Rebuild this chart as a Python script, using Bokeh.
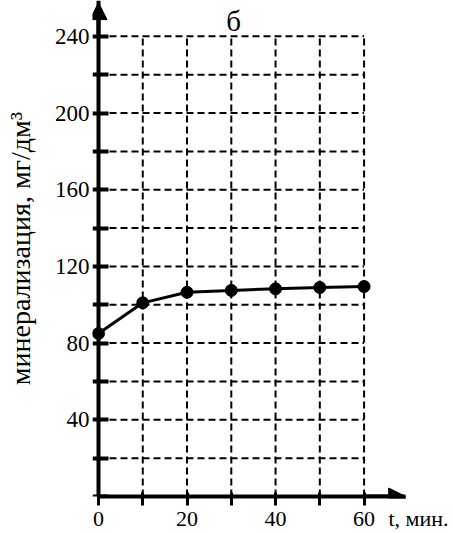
from bokeh.plotting import figure
from bokeh.models import Range1d, FixedTicker, Arrow, NormalHead, Label, LinearAxis
from bokeh.embed import file_html
from bokeh.resources import INLINE

# ---- data ----
t_min = [0, 10, 20, 30, 40, 50, 60]
mineralization = [85, 101, 106.5, 107.5, 108.3, 109, 109.5]

x_ticks = [0, 10, 20, 30, 40, 50, 60]
x_label_ticks = [0, 20, 40, 60]
x_tick_labels = ["0", "20", "40", "60"]
y_ticks = [0, 20, 40, 60, 80, 100, 120, 140, 160, 180, 200, 220, 240]
y_tick_labels = ["", "", "40", "", "80", "", "120", "", "160", "", "200", "", "240"]

title_text = "б"
x_label = "t, мин."
y_label = "минерализация, мг/дм³"

FONT = "Liberation Serif"
X_START, X_END = -1.356, 80.2
Y_END = 258.7
X_ARROW_TIP, Y_ARROW_TIP = 69.4, 257.6
X_LABEL_POS = 72.3
TITLE_POS = (30.5, 248.1)

p = figure(width=453, height=533,
           x_range=Range1d(X_START, X_END), y_range=Range1d(0, Y_END),
           output_backend="svg", toolbar_location=None,
           min_border_left=92, min_border_right=0,
           min_border_top=0, min_border_bottom=34)
p.outline_line_color = None
p.xgrid.visible = False
p.ygrid.visible = False
p.background_fill_color = "white"
p.border_fill_color = "white"

# dashed grid limited to the labelled area
n_h = len(y_ticks) - 1
p.segment(x0=[x_ticks[0]] * n_h, y0=y_ticks[1:], x1=[x_ticks[-1]] * n_h, y1=y_ticks[1:],
          line_color="black", line_width=2, line_dash="7 4")
n_v = len(x_ticks) - 1
p.segment(x0=x_ticks[1:], y0=[y_ticks[0]] * n_v, x1=x_ticks[1:], y1=[y_ticks[-1]] * n_v,
          line_color="black", line_width=2, line_dash="7 4")

# data
p.line(t_min, mineralization, line_color="black", line_width=3)
p.scatter(t_min, mineralization, size=12, fill_color="black", line_color="black")

# x axis: line + tick marks
xa = p.xaxis[0]
xa.ticker = FixedTicker(ticks=x_ticks)
xa.major_label_overrides = {k: "" for k in x_ticks}
xa.major_label_text_font_size = "1px"
xa.major_label_standoff = 0
xa.bounds = (0, X_ARROW_TIP)
xa.axis_line_width = 4
xa.axis_line_color = "black"
xa.major_tick_line_width = 3
xa.major_tick_line_color = "black"
xa.major_tick_in = 4
xa.major_tick_out = 9
xa.minor_tick_line_color = None

# x axis: tick labels and axis name on one line
xl = LinearAxis(ticker=FixedTicker(ticks=x_label_ticks + [X_LABEL_POS]),
                major_label_overrides={**{k: v for k, v in zip(x_label_ticks, x_tick_labels)},
                                       X_LABEL_POS: x_label},
                axis_line_color=None, major_tick_line_color=None, minor_tick_line_color=None,
                major_tick_in=0, major_tick_out=0, major_label_standoff=0,
                major_label_text_font=FONT, major_label_text_font_size="22px",
                major_label_text_color="black")
p.add_layout(xl, "below")

# y axis: tick labels and axis name (at the frame edge)
ya = p.yaxis[0]
ya.ticker = FixedTicker(ticks=y_ticks)
ya.major_label_overrides = {k: v for k, v in zip(y_ticks, y_tick_labels)}
ya.axis_line_color = None
ya.major_tick_line_color = None
ya.minor_tick_line_color = None
ya.major_tick_in = 0
ya.major_tick_out = 0
ya.major_label_standoff = 3
ya.major_label_text_font = FONT
ya.major_label_text_font_size = "23px"
ya.major_label_text_color = "black"
ya.axis_label = y_label
ya.axis_label_text_font = FONT
ya.axis_label_text_font_size = "28px"
ya.axis_label_text_font_style = "normal"
ya.axis_label_text_color = "black"
ya.axis_label_standoff = 16

# y axis: line and tick marks at t = 0
yl = LinearAxis(fixed_location=0, ticker=FixedTicker(ticks=y_ticks),
                major_label_overrides={k: "" for k in y_ticks},
                major_label_text_font_size="1px", major_label_standoff=0,
                axis_line_width=4, axis_line_color="black",
                major_tick_line_width=4, major_tick_line_color="black",
                major_tick_in=10, major_tick_out=6, minor_tick_line_color=None)
p.add_layout(yl, "left")

# arrow heads
p.add_layout(Arrow(end=NormalHead(size=17, fill_color="black", line_color="black"),
                   x_start=0, y_start=y_ticks[-1], x_end=0, y_end=Y_ARROW_TIP,
                   line_width=4, line_color="black"))
p.add_layout(Arrow(end=NormalHead(size=17, fill_color="black", line_color="black"),
                   x_start=x_ticks[-1], y_start=0, x_end=X_ARROW_TIP, y_end=0,
                   line_width=4, line_color="black"))

# title
p.add_layout(Label(x=TITLE_POS[0], y=TITLE_POS[1], text=title_text, text_align="center",
                   text_baseline="alphabetic",
                   text_font=FONT, text_font_size="29px", text_color="black"))

open("out.html", "w").write(file_html(p, INLINE, "chart"))
